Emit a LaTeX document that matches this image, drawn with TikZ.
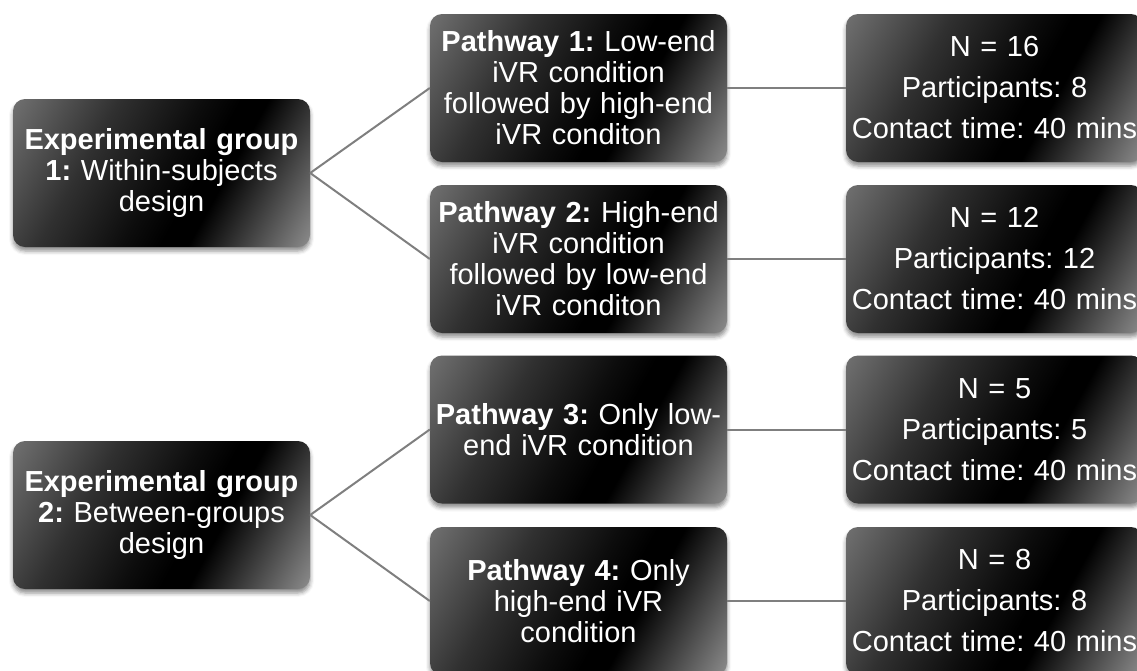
\documentclass[tikz,border=0pt]{standalone}
\usepackage{fontspec}
\setmainfont{Liberation Sans}
\usetikzlibrary{shadows.blur}
\frenchspacing
\pgfdeclarehorizontalshading{metal}{100bp}{rgb(0bp)=(0.47,0.47,0.47); rgb(16bp)=(0.44,0.44,0.44); rgb(35bp)=(0.19,0.19,0.19); rgb(50bp)=(0.05,0.05,0.05); rgb(57bp)=(0,0,0); rgb(62bp)=(0,0,0); rgb(72bp)=(0.25,0.25,0.25); rgb(84bp)=(0.55,0.55,0.55); rgb(100bp)=(0.55,0.55,0.55)}
\definecolor{conncol}{HTML}{7F7F7F}
\tikzset{
  box/.style={rounded corners=12pt, minimum width=297pt, minimum height=148pt,
    inner sep=0pt, text width=292pt, align=center, text=white,
    shading=metal, shading angle=-29,
    blur shadow={shadow xshift=0pt, shadow yshift=-4pt, shadow blur radius=4pt, shadow opacity=45},
    font=\fontsize{29}{31}\selectfont\frenchspacing},
  rbox/.style={box, font=\fontsize{29}{41}\selectfont\frenchspacing},
  conn/.style={draw=conncol, line width=2pt}
}
\begin{document}
\begin{tikzpicture}[x=1pt,y=-1pt]
\useasboundingbox (0,0) rectangle (1137,670);
\node[box] (L1) at (161.5,173) {\textbf{Experimental group}\\\textbf{1:} Within-subjects\\design};
\node[box] (L2) at (161.5,515) {\textbf{Experimental group}\\\textbf{2:} Between-groups\\design};
\node[box] (M1) at (578.5,88) {\textbf{Pathway 1:} Low-end\\iVR condition\\followed by high-end\\iVR conditon};
\node[box] (M2) at (578.5,259) {\textbf{Pathway 2:} High-end\\iVR condition\\followed by low-end\\iVR conditon};
\node[box] (M3) at (578.5,429.5) {\textbf{Pathway 3:} Only low-\\end iVR condition};
\node[box] (M4) at (578.5,601) {\textbf{Pathway 4:} Only\\high-end iVR\\condition};
\node[rbox] (R1) at (994.5,88) {N = 16\\Participants: 8\\Contact time: 40 mins};
\node[rbox] (R2) at (994.5,259) {N = 12\\Participants: 12\\Contact time: 40 mins};
\node[rbox] (R3) at (994.5,429.5) {N = 5\\Participants: 5\\Contact time: 40 mins};
\node[rbox] (R4) at (994.5,601) {N = 8\\Participants: 8\\Contact time: 40 mins};
\draw[conn] (L1.east) -- (M1.west);
\draw[conn] (L1.east) -- (M2.west);
\draw[conn] (L2.east) -- (M3.west);
\draw[conn] (L2.east) -- (M4.west);
\draw[conn] (M1.east) -- (R1.west);
\draw[conn] (M2.east) -- (R2.west);
\draw[conn] (M3.east) -- (R3.west);
\draw[conn] (M4.east) -- (R4.west);
\end{tikzpicture}
\end{document}
